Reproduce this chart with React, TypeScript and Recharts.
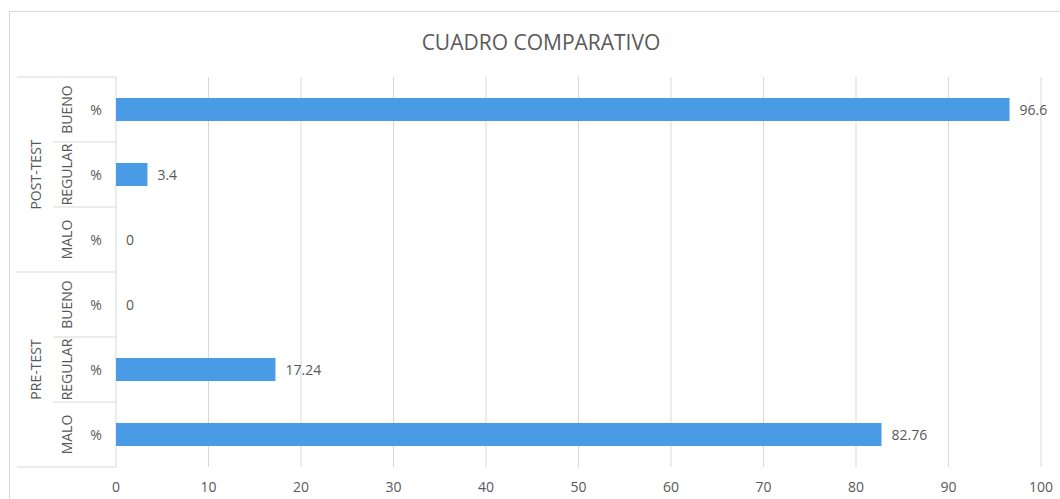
import { BarChart, Bar, XAxis, YAxis, CartesianGrid, LabelList } from "recharts";

const groups = ["POST-TEST", "POST-TEST", "POST-TEST", "PRE-TEST", "PRE-TEST", "PRE-TEST"];
const levels = ["BUENO", "REGULAR", "MALO", "BUENO", "REGULAR", "MALO"];
const units = ["%", "%", "%", "%", "%", "%"];
const values = [96.6, 3.4, 0, 0, 17.24, 82.76];
const xTicks = [0, 10, 20, 30, 40, 50, 60, 70, 80, 90, 100];

const data = values.map((v, i) => ({
  key: `${groups[i]}|${levels[i]}`,
  group: groups[i],
  level: levels[i],
  unit: units[i],
  value: v,
}));

const FONT = "'Open Sans', 'Noto Sans', sans-serif";
const TEXT = "#595959";
const LINE = "#d9d9d9";
const BAR = "#4a9be6";

const W = 1060;
const H = 499;
const M = { top: 77, right: 19, left: 17, bottom: 0 };
const AXIS_W = 99;
const X_H = 32;
const BAND = (H - M.top - X_H) / data.length;
const LABEL_GAP = 10;

function CategoryTick(props: any) {
  const { y, index } = props;
  const d = data[index];
  const right = M.left + AXIS_W;
  const top = y - BAND / 2;
  const bottom = y + BAND / 2;
  const isGroupEnd = index === data.length - 1 || data[index + 1].group !== d.group;
  const groupSize = data.filter((r) => r.group === d.group).length;
  const firstIdx = data.findIndex((r) => r.group === d.group);
  const showGroup = index === firstIdx;
  const groupCenter = top + (groupSize * BAND) / 2;
  return (
    <g fontFamily={FONT} fill={TEXT}>
      {index === 0 && <line x1={M.left} x2={right} y1={top} y2={top} stroke={LINE} />}
      <line x1={isGroupEnd ? M.left : 53} x2={right} y1={bottom} y2={bottom} stroke={LINE} />
      <text x={96} y={y} textAnchor="middle" dominantBaseline="central" fontSize={14}>
        {d.unit}
      </text>
      <text
        x={66}
        y={y}
        textAnchor="middle"
        dominantBaseline="central"
        fontSize={14}
        transform={`rotate(-90 66 ${y})`}
      >
        {d.level}
      </text>
      {showGroup && (
        <text
          x={35}
          y={groupCenter}
          textAnchor="middle"
          dominantBaseline="central"
          fontSize={14}
          transform={`rotate(-90 35 ${groupCenter})`}
        >
          {d.group}
        </text>
      )}
      {/* zero-length bars get no label from recharts, so draw it at the baseline */}
      {d.value === 0 && (
        <text x={right + LABEL_GAP} y={y} dominantBaseline="central" fontSize={14}>
          {d.value}
        </text>
      )}
    </g>
  );
}

function ValueLabel(props: any) {
  const { x, y, width, height, value } = props;
  if (!value) return null;
  return (
    <text
      x={Number(x) + Number(width) + LABEL_GAP}
      y={Number(y) + Number(height) / 2}
      dominantBaseline="central"
      fill={TEXT}
      fontSize={14}
      fontFamily={FONT}
    >
      {value}
    </text>
  );
}

export default function App() {
  return (
    <div
      style={{
        position: "absolute",
        left: 0,
        top: 0,
        width: W,
        height: H,
        background: "#fff",
        overflow: "hidden",
      }}
    >
      <div
        style={{
          position: "absolute",
          left: 9,
          top: 11,
          width: 1080,
          height: 520,
          border: `1px solid ${LINE}`,
          boxSizing: "border-box",
        }}
      />
      <div
        style={{
          position: "absolute",
          left: 0,
          top: 28,
          width: 1082,
          textAlign: "center",
          fontFamily: FONT,
          fontSize: 21,
          color: TEXT,
        }}
      >
        CUADRO COMPARATIVO
      </div>
      <div style={{ position: "absolute", left: 0, top: 0 }}>
        <BarChart width={W} height={H} data={data} layout="vertical" margin={M} barSize={23}>
          <CartesianGrid horizontal={false} stroke={LINE} />
          <XAxis
            type="number"
            domain={[0, 100]}
            ticks={xTicks}
            height={X_H}
            axisLine={false}
            tickLine={false}
            tick={{ fontSize: 14, fill: TEXT, fontFamily: FONT }}
            tickMargin={9}
          />
          <YAxis
            type="category"
            dataKey="key"
            width={AXIS_W}
            axisLine={false}
            tickLine={false}
            tick={<CategoryTick />}
            interval={0}
          />
          <Bar dataKey="value" fill={BAR} isAnimationActive={false}>
            <LabelList dataKey="value" content={<ValueLabel />} />
          </Bar>
        </BarChart>
      </div>
    </div>
  );
}
